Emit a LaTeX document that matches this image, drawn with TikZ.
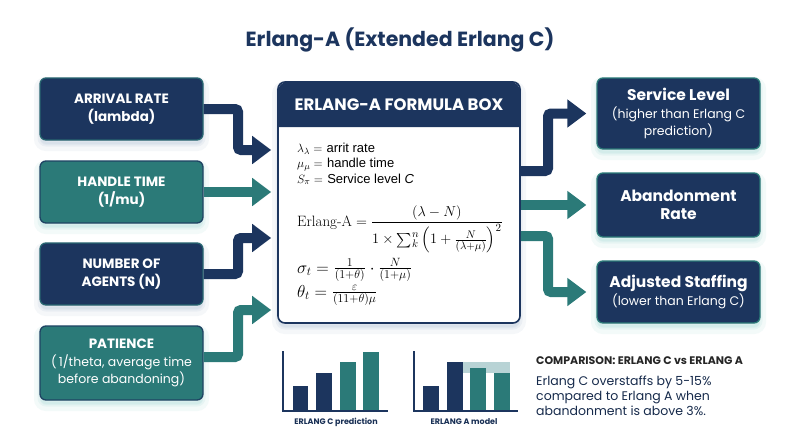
\documentclass[tikz,border=0pt]{standalone}
\usepackage{amsmath}
\usepackage{fontspec}
\newfontfamily\pop{Poppins}
\newfontfamily\formfont{Liberation Sans}
\usetikzlibrary{arrows.meta,calc}
\definecolor{cnavy}{HTML}{1C355E}
\definecolor{cteal}{HTML}{2B7A78}
\definecolor{cshade}{HTML}{B8D3D5}
\definecolor{glowN}{HTML}{9FB4CC}
\definecolor{glowT}{HTML}{8FD0CC}
\tikzset{
  glow/.style={
    preaction={fill=#1, opacity=.10, draw=#1, line width=12pt, transform canvas={yshift=-5pt}},
    preaction={fill=#1, opacity=.12, draw=#1, line width=5pt, transform canvas={yshift=-4pt}}},
  boxbase/.style={rounded corners=6pt, minimum width=163pt, align=center, text=white,
    line width=1.3pt, inner sep=2pt},
  navybox/.style={boxbase, fill=cnavy, draw=cteal!70!cnavy, glow=glowN},
  tealbox/.style={boxbase, fill=cteal, draw=cnavy!80!cteal, glow=glowT},
  outbox/.style={boxbase, fill=cnavy, draw=cteal, glow=glowT},
  leftfont/.style={font=\pop\bfseries\fontsize{13.5}{18}\selectfont},
  rightfont/.style={font=\pop\bfseries\fontsize{15.5}{18}\selectfont},
  arrbase/.style={line width=10pt, rounded corners=3pt, -{Triangle[width=27pt,length=19pt]}},
  arrN/.style={arrbase, draw=cnavy, shorten >=6pt},
  arrT/.style={arrbase, draw=cteal, shorten >=6pt},
  arrNo/.style={arrbase, draw=cnavy, shorten >=10pt},
  arrTo/.style={arrbase, draw=cteal, shorten >=10pt},
  formline/.style={anchor=base west, inner sep=0pt, font=\fontsize{13}{15}\selectfont},
  axis/.style={draw=cnavy, line width=1.2pt},
  chartlab/.style={font=\pop\bfseries\fontsize{8}{10}\selectfont, text=cnavy!90!black},
}
\newcommand{\subln}[1]{{\mdseries\fontsize{12.5}{15}\selectfont #1}}
\begin{document}
\begin{tikzpicture}[x=1pt,y=-1pt]
\useasboundingbox[fill=white] (0,0) rectangle (800,447);

% title
\node[font=\pop\bfseries\fontsize{20.5}{24}\selectfont, text=cnavy] (title) at (400,40) {Erlang-A (Extended Erlang C)};

% formula box
\node[draw=cnavy, line width=1.6pt, fill=white, rounded corners=7pt, minimum width=242pt, minimum height=241pt, glow=glowN] (fbox) at (399,202.5) {};
\fill[cnavy] (278.8,127) [rounded corners=6.5pt] -- (278.8,82.8) -- (519.2,82.8) [sharp corners] -- (519.2,127) -- cycle;
\node[font=\pop\bfseries\fontsize{16.5}{19}\selectfont, text=white] (fhead) at (399,104.5) {ERLANG-A FORMULA BOX};

\node[formline] (f1) at (297,152) {$\lambda_{\lambda} =$ {\formfont arrit rate}};
\node[formline] (f2) at (297,167.5) {$\mu_{\mu} =$ {\formfont handle time}};
\node[formline] (f3) at (297,183) {$S_{\pi} =$ {\formfont Service level \itshape C}};
\node[formline, font=\fontsize{15}{18}\selectfont] (f4) at (297,226) {$\text{Erlang-A} = \dfrac{(\lambda - N)}{1\times \sum_k^n \left(1+\frac{N}{(\lambda+\mu)}\right)^{2}}$};
\node[formline, font=\fontsize{17}{20}\selectfont] (f5) at (297,273) {$\sigma_t = \frac{1}{(1+\theta)}\cdot\frac{N}{(1+\mu)}$};
\node[formline, font=\fontsize{17}{20}\selectfont] (f6) at (297,297) {$\theta_t = \frac{\varepsilon}{(11+\theta)\mu}$};

% input boxes
\node[navybox, leftfont, minimum height=62pt] (in1) at (121.5,109) {ARRIVAL RATE\\(lambda)};
\node[tealbox, leftfont, minimum height=62pt] (in2) at (121.5,192) {HANDLE TIME\\(1/mu)};
\node[navybox, leftfont, minimum height=62pt] (in3) at (121.5,274) {NUMBER OF\\AGENTS (N)};
\node[tealbox, leftfont, minimum height=74pt] (in4) at (121.5,363) {PATIENCE\\\subln{(\,1/theta, average time}\\[-1pt]\subln{before abandoning)}};

% output boxes
\node[outbox, rightfont, minimum height=71pt] (out1) at (678.5,113.5) {Service Level\\\subln{(higher than Erlang C}\\[-1pt]\subln{prediction)}};
\node[outbox, rightfont, minimum height=64pt] (out2) at (678.5,205) {Abandonment\\Rate};
\node[outbox, rightfont, minimum height=62pt] (out3) at (678.5,292) {Adjusted Staffing\\\subln{(lower than Erlang C)}};

% input arrows
\draw[arrN] (in1.east) -- (238,109) |- (fbox.west |- 0,150);
\draw[arrT] (in2.east) -- (fbox.west |- in2.east);
\draw[arrN] (in3.east) -- (238,274) |- (fbox.west |- 0,238);
\draw[arrT] ([yshift=6pt]in4.east) -- (238,357) |- (fbox.west |- 0,310);

% output arrows
\draw[arrNo] (fbox.east |- 0,171) -- (548,171) |- (out1.west);
\draw[arrTo] (fbox.east |- out2.west) -- (out2.west);
\draw[arrTo] (fbox.east |- 0,236) -- (548,236) |- (out3.west);

% chart 1
\fill[cnavy] (293,411) rectangle (308,386);
\fill[cnavy] (316,411) rectangle (332,373);
\fill[cteal] (340,411) rectangle (356,362);
\fill[cteal] (363,411) rectangle (379,352);
\draw[axis] (283,351) -- (283,411) -- (388,411);
\node[chartlab] (lab1) at (336,422) {ERLANG C prediction};

% chart 2
\fill[cshade] (463,362) rectangle (510,373);
\fill[cnavy] (423,411) rectangle (439,386);
\fill[cnavy] (447,411) rectangle (463,362);
\fill[cteal] (470,411) rectangle (486,368);
\fill[cteal] (494,411) rectangle (510,373);
\draw[axis] (414,351) -- (414,411) -- (518,411);
\node[chartlab] (lab2) at (464,422) {ERLANG A model};

% comparison
\node[anchor=west, inner sep=0pt, font=\pop\bfseries\fontsize{11}{13}\selectfont, text=black!85] (cmpt) at (536,361) {COMPARISON: ERLANG C vs ERLANG A};
\node[anchor=north west, inner sep=0pt, align=left, font=\pop\fontsize{12.5}{15}\selectfont, text=cnavy!80!black] (cmpb) at (536,376) {Erlang C overstaffs by 5-15\%\\compared to Erlang A when\\abandonment is above 3\%.};
\end{tikzpicture}
\end{document}
